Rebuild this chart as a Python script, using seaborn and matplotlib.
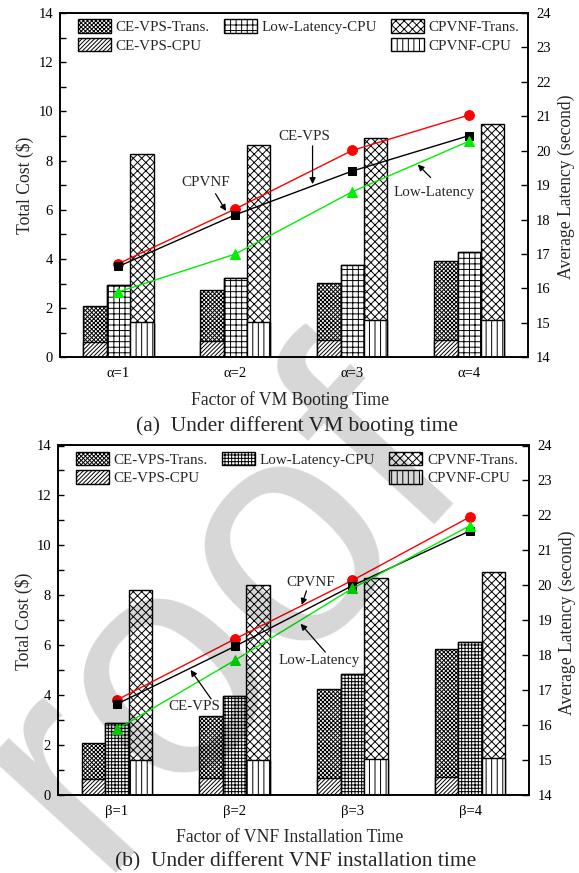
import numpy as np
import pandas as pd
import matplotlib
matplotlib.use("Agg")
import matplotlib.pyplot as plt
import matplotlib.patches as mpatches
from matplotlib.ticker import MultipleLocator
import seaborn as sns

# ---------------- data ----------------
methods = ["CE-VPS", "Low-Latency", "CPVNF"]
alpha_labels = ["α=1", "α=2", "α=3", "α=4"]
beta_labels = ["β=1", "β=2", "β=3", "β=4"]

# (a) VM booting time  -- total cost components ($)
a_ce_cpu = [0.62, 0.66, 0.69, 0.72]
a_ce_trans = [1.48, 2.09, 2.33, 3.19]
a_ll_cpu = [2.92, 3.23, 3.75, 4.29]
a_cp_cpu = [1.42, 1.45, 1.50, 1.53]
a_cp_trans = [6.83, 7.17, 7.42, 7.94]
# (a) average latency (second)
a_lat_cp = [16.72, 18.31, 20.01, 21.04]
a_lat_ce = [16.64, 18.14, 19.41, 20.44]
a_lat_ll = [15.90, 17.00, 18.81, 20.28]

# (b) VNF installation time -- total cost components ($)
b_ce_cpu = [0.64, 0.67, 0.68, 0.72]
b_ce_trans = [1.43, 2.50, 3.58, 5.14]
b_ll_cpu = [2.90, 3.97, 4.84, 6.13]
b_cp_cpu = [1.39, 1.42, 1.46, 1.50]
b_cp_trans = [6.81, 7.01, 7.24, 7.45]
# (b) average latency (second)
b_lat_cp = [16.72, 18.46, 20.14, 21.96]
b_lat_ce = [16.60, 18.25, 19.99, 21.56]
b_lat_ll = [15.88, 17.85, 19.91, 21.71]

legend_labels = ["CE-VPS-Trans.", "CE-VPS-CPU", "Low-Latency-CPU", "",
                 "CPVNF-Trans.", "CPVNF-CPU"]
watermark = "Proof"

# ---------------- style ----------------
sns.set_style("white")
plt.rcParams["font.family"] = ["Liberation Serif", "DejaVu Serif"]
plt.rcParams["axes.edgecolor"] = "black"
plt.rcParams["axes.linewidth"] = 1.2
plt.rcParams["hatch.linewidth"] = 0.7
plt.rcParams["xtick.color"] = "black"
plt.rcParams["ytick.color"] = "black"

TICK_FS = 10.5
LEG_FS = 10.8
LAB_FS = 12.7
CAP_FS = 15.5

H_CE_T = "xxxxxxxx"
H_CE_C = "////////"
H_CP_T = "xxxx"
H_CP_C = "|||"

W, H = 579, 873
fig = plt.figure(figsize=(W / 100, H / 100), dpi=100)


def draw_panel(ax, cats, ce_cpu, ce_trans, ll_cpu, cp_cpu, cp_trans,
               lat_cp, lat_ce, lat_ll, ll_hatch, notes):
    n = len(cats)
    ce_tot = list(np.add(ce_cpu, ce_trans))
    cp_tot = list(np.add(cp_cpu, cp_trans))
    tot = pd.DataFrame({"cat": cats * 3,
                        "method": np.repeat(methods, n),
                        "cost": ce_tot + list(ll_cpu) + cp_tot})
    cpu = pd.DataFrame({"cat": cats * 3,
                        "method": np.repeat(methods, n),
                        "cost": list(ce_cpu) + list(ll_cpu) + list(cp_cpu)})
    pal = {m: "white" for m in methods}
    common = dict(x="cat", y="cost", hue="method", hue_order=methods,
                  order=cats, palette=pal, width=0.6, edgecolor="black",
                  linewidth=1.0, legend=False, errorbar=None, ax=ax,
                  saturation=1)
    sns.barplot(data=tot, **common)
    hatches_tot = [H_CE_T, ll_hatch, H_CP_T]
    for i, p in enumerate(ax.patches[:3 * n]):
        p.set_hatch(hatches_tot[i // n])
    sns.barplot(data=cpu, **common)
    hatches_cpu = [H_CE_C, ll_hatch, H_CP_C]
    for i, p in enumerate(ax.patches[3 * n:6 * n]):
        p.set_hatch(hatches_cpu[i // n])

    ax.set_ylim(0, 14)
    ax.set_xlim(-0.5, n - 0.5)
    ax.yaxis.set_major_locator(MultipleLocator(2))
    ax.yaxis.set_minor_locator(MultipleLocator(1))
    ax.set_xlabel("")
    ax.set_ylabel("")
    ax.tick_params(axis="x", which="both", bottom=True, top=False,
                   direction="in", length=5, width=1, pad=7,
                   labelsize=TICK_FS)
    ax.tick_params(axis="y", which="both", left=True, right=False,
                   direction="in", length=4, width=1, pad=5,
                   labelsize=TICK_FS)

    ax2 = ax.twinx()
    sns.lineplot(x=cats, y=lat_cp, color="#ff0000", marker="o",
                 markersize=7, markeredgecolor="#ff0000", linewidth=1.0,
                 sort=False, ax=ax2)
    sns.lineplot(x=cats, y=lat_ce, color="black", marker="s",
                 markersize=5.5, markeredgecolor="black", linewidth=1.0,
                 sort=False, ax=ax2)
    sns.lineplot(x=cats, y=lat_ll, color="#00ee00", marker="^",
                 markersize=7.5, markeredgecolor="#00ee00", linewidth=1.0,
                 sort=False, ax=ax2)
    ax2.set_ylim(14, 24)
    ax2.set_xlim(-0.5, n - 0.5)
    ax2.yaxis.set_major_locator(MultipleLocator(1))
    ax2.set_ylabel("")
    ax2.tick_params(axis="y", which="both", right=True, left=False,
                    direction="in", length=5, width=1, pad=6,
                    labelsize=TICK_FS)
    for sp in ax2.spines.values():
        sp.set_linewidth(1.2)
        sp.set_color("black")

    for text, txy, tail, head in notes:
        ax2.annotate(text, xy=txy, xycoords=ax2.transData, ha="center",
                     va="center", fontsize=LEG_FS)
        ax2.annotate("", xy=head, xycoords=ax2.transData, xytext=tail,
                     textcoords=ax2.transData,
                     arrowprops=dict(arrowstyle="-|>", color="black",
                                     lw=0.9, mutation_scale=9,
                                     shrinkA=0, shrinkB=0))

    handles = [
        mpatches.Patch(facecolor="white", edgecolor="black", hatch=H_CE_T),
        mpatches.Patch(facecolor="white", edgecolor="black", hatch=H_CE_C),
        mpatches.Patch(facecolor="white", edgecolor="black", hatch=ll_hatch),
        mpatches.Patch(facecolor="none", edgecolor="none"),
        mpatches.Patch(facecolor="white", edgecolor="black", hatch=H_CP_T),
        mpatches.Patch(facecolor="white", edgecolor="black", hatch=H_CP_C),
    ]
    ax2.legend(handles, legend_labels, ncol=3, loc="upper left",
               bbox_to_anchor=(0.039, 0.982), frameon=False,
               fontsize=LEG_FS, handlelength=2.2, handleheight=1.0,
               handletextpad=0.3, columnspacing=0.95, labelspacing=0.25,
               borderpad=0, borderaxespad=0)
    return ax2


# ---------- panel (a) ----------
ax_a = fig.add_axes([60 / W, 1 - 357.3 / H, 467.7 / W, 344.3 / H])
notes_a = [
    ("CPVNF", (0.745, 19.07), (0.83, 18.75), (0.92, 18.25)),
    ("CE-VPS", (1.59, 20.42), (1.66, 20.14), (1.66, 19.03)),
    ("Low-Latency", (2.70, 18.80), (2.67, 19.22), (2.56, 19.60)),
]
draw_panel(ax_a, alpha_labels, a_ce_cpu, a_ce_trans, a_ll_cpu, a_cp_cpu,
           a_cp_trans, a_lat_cp, a_lat_ce, a_lat_ll, "+++", notes_a)

# ---------- panel (b) ----------
ax_b = fig.add_axes([58 / W, 1 - 795 / H, 471 / W, 349.5 / H])
notes_b = [
    ("CPVNF", (1.65, 20.09), (1.61, 19.84), (1.57, 19.44)),
    ("CE-VPS", (0.66, 16.52), (0.80, 16.75), (0.626, 17.58)),
    ("Low-Latency", (1.72, 17.86), (1.77, 18.09), (1.56, 18.9)),
]
draw_panel(ax_b, beta_labels, b_ce_cpu, b_ce_trans, b_ll_cpu, b_cp_cpu,
           b_cp_trans, b_lat_cp, b_lat_ce, b_lat_ll, "+++++", notes_b)

# ---------- axis labels / captions ----------
fig.text(25 / W, 1 - 185 / H, "Total Cost ($)", rotation=90, ha="center",
         va="center", fontsize=LAB_FS)
fig.text(566 / W, 1 - 187 / H, "Average Latency (second)", rotation=90,
         ha="center", va="center", fontsize=LAB_FS)
fig.text(290 / W, 1 - 400 / H, "Factor of VM Booting Time", ha="center",
         va="center", fontsize=LAB_FS)
fig.text(296.5 / W, 1 - 426.5 / H, "(a)  Under different VM booting time",
         ha="center", va="center", fontsize=CAP_FS)

fig.text(23.5 / W, 1 - 621 / H, "Total Cost ($)", rotation=90, ha="center",
         va="center", fontsize=LAB_FS)
fig.text(567 / W, 1 - 623 / H, "Average Latency (second)", rotation=90,
         ha="center", va="center", fontsize=LAB_FS)
fig.text(290 / W, 1 - 837 / H, "Factor of VNF Installation Time",
         ha="center", va="center", fontsize=LAB_FS)
fig.text(296 / W, 1 - 861.5 / H,
         "(b)  Under different VNF installation time",
         ha="center", va="center", fontsize=CAP_FS)

# ---------- light "Proof" watermark ----------
fig.text(-52 / W, 1 - 1027 / H, watermark, rotation=47.5,
         rotation_mode="anchor", ha="left", va="baseline", fontsize=232,
         family=["Liberation Sans", "DejaVu Sans"], color="black",
         alpha=0.16, zorder=20)

fig.savefig("out.png", dpi=100)
